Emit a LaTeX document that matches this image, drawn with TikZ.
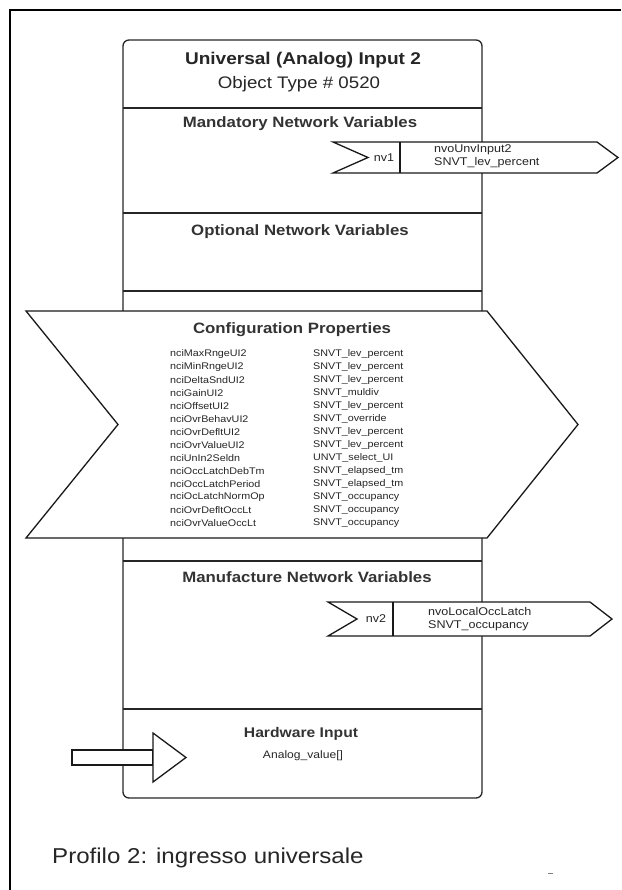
\documentclass[tikz,border=0pt]{standalone}
\usepackage{fontspec}
\setmainfont{Liberation Sans}[FakeStretch=1.12]
\begin{document}
\begin{tikzpicture}[x=1pt,y=-1pt,
  ln/.style={draw=black!85, line width=1.3pt},
  shp/.style={draw=black!90, fill=white, line width=1.3pt, line join=miter},
  ttl/.style={font=\fontsize{17}{20}\selectfont\bfseries, text=black!85, inner sep=0pt},
  sub/.style={font=\fontsize{16.7}{20}\selectfont, text=black!85, inner sep=0pt},
  hdr/.style={font=\fontsize{15}{18}\selectfont\bfseries, text=black!80, inner sep=0pt},
  row/.style={font=\fontsize{9.6}{11}\selectfont, text=black!85, inner sep=0pt, anchor=west},
  nvt/.style={font=\fontsize{11.2}{13.4}\selectfont, text=black!85, inner sep=0pt},
  captxt/.style={font=\fontsize{21.5}{24}\selectfont, text=black!85, inner sep=0pt, anchor=west}]
\useasboundingbox (0,0) rectangle (621,890);
% outer frame
\draw[line width=1.4pt] (10,890) -- (10,10) -- (621,10);
% main box
\draw[ln, rounded corners=6pt] (123,40) rectangle (482,798);
\draw[ln] (123,108) -- (482,108);
\draw[ln] (123,213) -- (482,213);
\draw[ln] (123,291) -- (482,291);
\draw[ln] (123,561) -- (482,561);
\draw[ln] (123,709) -- (482,709);
% title
\node[ttl] (title) at (303,60) {Universal (Analog) Input 2};
\node[sub] (otype) at (299,84) {Object Type \# 0520};
% mandatory
\node[hdr] (mand) at (300,124) {Mandatory Network Variables};
\draw[shp] (333,142) -- (597,142) -- (618,157.5) -- (597,173) -- (333,173) -- (368,157.5) -- cycle;
\draw[shp] (400,142) -- (400,173);
\node[nvt] (nv1) at (384,157.5) {nv1};
\node[nvt, anchor=west, align=left] (nv1t) at (434,156) {nvoUnvInput2\\SNVT\_lev\_percent};
% optional
\node[hdr] (opt) at (300,232) {Optional Network Variables};
% configuration properties
\draw[shp] (26,311) -- (487,311) -- (578,424.5) -- (487,538) -- (26,538) -- (118,424.5) -- cycle;
\node[hdr] (conf) at (292,330) {Configuration Properties};
\foreach \n/\t [count=\i from 0] in {
  nciMaxRngeUI2/SNVT\_lev\_percent,
  nciMinRngeUI2/SNVT\_lev\_percent,
  nciDeltaSndUI2/SNVT\_lev\_percent,
  nciGainUI2/SNVT\_muldiv,
  nciOffsetUI2/SNVT\_lev\_percent,
  nciOvrBehavUI2/SNVT\_override,
  nciOvrDefltUI2/SNVT\_lev\_percent,
  nciOvrValueUI2/SNVT\_lev\_percent,
  nciUnIn2Seldn/UNVT\_select\_UI,
  nciOccLatchDebTm/SNVT\_elapsed\_tm,
  nciOccLatchPeriod/SNVT\_elapsed\_tm,
  nciOcLatchNormOp/SNVT\_occupancy,
  nciOvrDefltOccLt/SNVT\_occupancy,
  nciOvrValueOccLt/SNVT\_occupancy}{
  \node[row] (cn\i) at (170,354+13*\i) {\n};
  \node[row] (ct\i) at (313,354+13*\i) {\t};
}
% manufacture
\node[hdr] (manu) at (307,577) {Manufacture Network Variables};
\draw[shp] (328,602) -- (590,602) -- (612,619) -- (590,636) -- (328,636) -- (357,619) -- cycle;
\draw[shp] (393,602) -- (393,636);
\node[nvt] (nv2) at (376,619) {nv2};
\node[nvt, anchor=west, align=left] (nv2t) at (428,619) {nvoLocalOccLatch\\SNVT\_occupancy};
% hardware input
\node[hdr, font=\fontsize{14}{17}\selectfont\bfseries] (hw) at (301,734) {Hardware Input};
\node[nvt, font=\fontsize{10.8}{13}\selectfont] (av) at (303,756) {Analog\_value[]};
\draw[shp] (72,750) rectangle (153,765);
\draw[shp] (153,733) -- (186,757.5) -- (153,782) -- cycle;
% caption
\node[captxt] (caption) at (52,858) {Profilo 2: ingresso universale};
\coordinate (d1) at (548,873);
\coordinate (d2) at (553,873);
\draw[black!50, line width=0.8pt] (d1) -- (d2);
\end{tikzpicture}
\end{document}
